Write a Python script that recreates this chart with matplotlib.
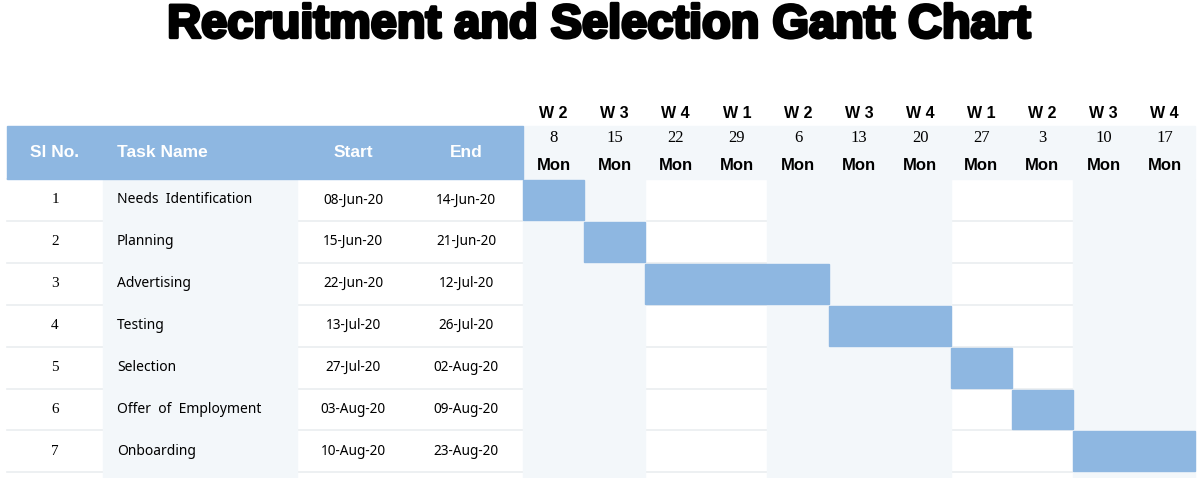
import matplotlib.pyplot as plt
import matplotlib.patheffects as pe
from matplotlib.patches import Rectangle
import pandas as pd

# table data
sl_no = [1, 2, 3, 4, 5, 6, 7]
tasks = ["Needs  Identification", "Planning", "Advertising", "Testing",
         "Selection", "Offer  of  Employment", "Onboarding"]
starts = ["08-Jun-20", "15-Jun-20", "22-Jun-20", "13-Jul-20",
          "27-Jul-20", "03-Aug-20", "10-Aug-20"]
ends = ["14-Jun-20", "21-Jun-20", "12-Jul-20", "26-Jul-20",
        "02-Aug-20", "09-Aug-20", "23-Aug-20"]

# timeline header
week_labels = ["W 2", "W 3", "W 4", "W 1", "W 2", "W 3", "W 4", "W 1", "W 2", "W 3", "W 4"]
day_nums = [8, 15, 22, 29, 6, 13, 20, 27, 3, 10, 17]
day_names = ["Mon"] * 11
shaded_cols = [1, 1, 0, 0, 1, 1, 1, 0, 0, 1, 1]
first_monday = "08-Jun-20"

BLUE = "#8eb7e1"
SHADE = "#f3f7fa"
LINE = "#eaedf0"

# layout (pixels)
X0, CW = 523, 61.1
Y0, RH = 179, 41.9
HDR_TOP = 126
BOTTOM = 478

fig = plt.figure(figsize=(12, 4.78), dpi=100)
ax = fig.add_axes([0, 0, 1, 1])
ax.set_xlim(0, 1200)
ax.set_ylim(478, 0)
ax.axis("off")

n = len(tasks)
ncol = len(week_labels)

# title
ax.text(600, 37.5, "Recruitment and Selection Gantt Chart", ha="center", va="baseline",
        fontsize=33.8, fontweight="bold", family="Liberation Sans",
        path_effects=[pe.withStroke(linewidth=2.4, foreground="black")])

# row separators
for i in range(n + 1):
    y = Y0 + i * RH
    ax.plot([7, X0 + ncol * CW], [y, y], color=LINE, lw=1.2, zorder=1)

# task name column shading
ax.add_patch(Rectangle((103, Y0), 194, BOTTOM - Y0, color=SHADE, zorder=2))

# gantt header shading and month shading
ax.add_patch(Rectangle((X0, HDR_TOP), ncol * CW, Y0 - HDR_TOP, color=SHADE, zorder=2))
for j, s in enumerate(shaded_cols):
    if s:
        ax.add_patch(Rectangle((X0 + j * CW, Y0), CW, BOTTOM - Y0, color=SHADE, zorder=2))

# header bar
ax.add_patch(Rectangle((7, HDR_TOP), X0 - 7, Y0 - HDR_TOP, color=BLUE, zorder=3))
hy = (HDR_TOP + Y0) / 2
hkw = dict(va="center", color="white", fontsize=12.5, fontweight="bold",
           family="Liberation Sans", zorder=4)
ax.text(55, hy, "Sl No.", ha="center", **hkw)
ax.text(117, hy, "Task Name", ha="left", **hkw)
ax.text(353, hy, "Start", ha="center", **hkw)
ax.text(466, hy, "End", ha="center", **hkw)

# timeline header labels
for j in range(ncol):
    cx = X0 + (j + 0.5) * CW
    ax.text(cx, 113, week_labels[j], ha="center", va="center", fontsize=11.5,
            fontweight="bold", family="Liberation Sans", zorder=4)
    ax.text(cx, 138, str(day_nums[j]), ha="center", va="center", fontsize=12,
            family="Liberation Serif", zorder=4)
    ax.text(cx, 166, day_names[j], ha="center", va="center", fontsize=12,
            fontweight="bold", family="Liberation Sans", zorder=4)

# rows and bars
base = pd.to_datetime(first_monday, format="%d-%b-%y")
for i in range(n):
    cy = Y0 + (i + 0.5) * RH
    ax.text(55, cy, str(sl_no[i]), ha="center", va="center", fontsize=11,
            family="Liberation Serif", zorder=4)
    ax.text(117, cy, tasks[i], ha="left", va="center", fontsize=10,
            family="Noto Sans", zorder=4)
    ax.text(353, cy, starts[i], ha="center", va="center", fontsize=9.8,
            family="Noto Sans", zorder=4)
    ax.text(466, cy, ends[i], ha="center", va="center", fontsize=9.8,
            family="Noto Sans", zorder=4)

    s = pd.to_datetime(starts[i], format="%d-%b-%y")
    e = pd.to_datetime(ends[i], format="%d-%b-%y") + pd.Timedelta(days=1)
    c0 = (s - base).days / 7
    c1 = (e - base).days / 7
    ax.add_patch(Rectangle((X0 + c0 * CW, Y0 + i * RH + 1), (c1 - c0) * CW, RH - 2,
                           color=BLUE, zorder=3))

fig.savefig("out.png", dpi=100)
